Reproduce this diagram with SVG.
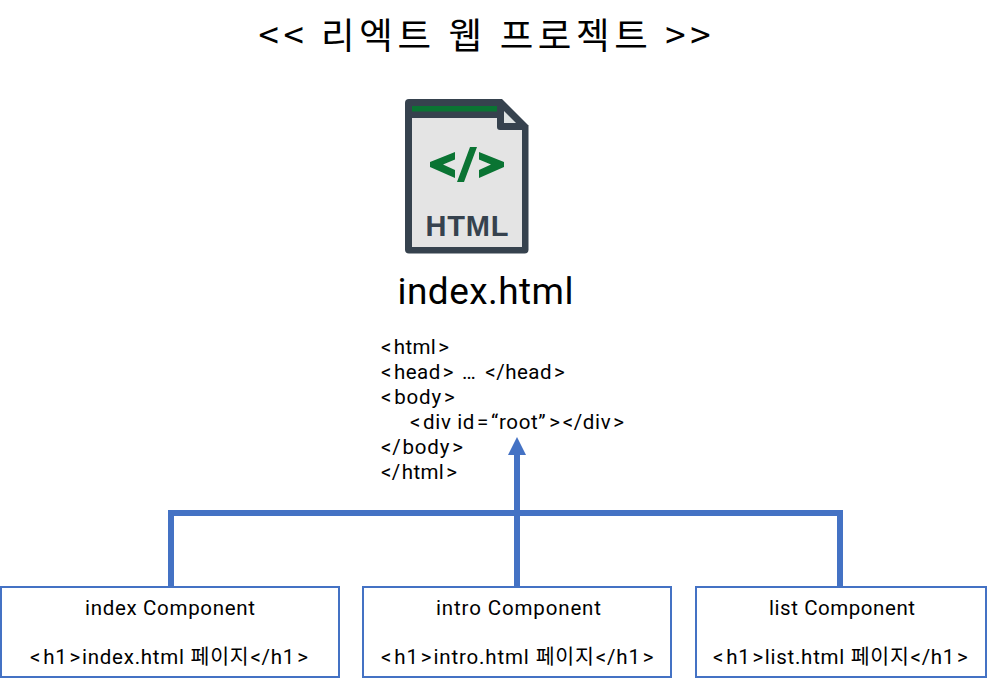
<svg xmlns="http://www.w3.org/2000/svg" width="987" height="681" viewBox="0 0 987 681">
<style>
text{font-family:Roboto,"Noto Sans CJK KR",sans-serif;fill:#000}
.k{font-family:"Noto Sans CJK KR",sans-serif}
.t{font-size:20.500px}
.box{fill:#fff;stroke:#4472c4;stroke-width:2}
.conn{fill:none;stroke:#4472c4;stroke-width:6}
</style>
<rect width="987" height="681" fill="#fff"/>
<text id="title" class="k" x="484.500" y="49" font-size="36.500" text-anchor="middle" textLength="452" lengthAdjust="spacing">&lt;&lt; 리엑트 웹 프로젝트 &gt;&gt;</text>
<g id="html-file-icon">
<path d="M409 99H502L528.500 125.500V249.500Q528.500 253.500 524.500 253.500H409Q405 253.500 405 249.500V103Q405 99 409 99Z" fill="#36424e"/>
<path d="M412 118H497V127Q497 130 500 130H522V247H412Z" fill="#e4e4e4"/>
<rect x="412" y="106" width="85" height="5.500" fill="#0a7433"/>
<path d="M504 111L516 123H504Z" fill="#dfe3e3"/>
<path d="M430 162L455 152V159.500L443 164.500L455 170V178L430 167Z M504 162L479 152V159.500L491 164.500L479 170V178L504 167Z M457 182L470 147H477L464 182Z" fill="#0a7433"/>
<text x="467" y="236" font-size="29" font-weight="700" text-anchor="middle" textLength="83" style="font-family:'Liberation Sans',sans-serif;fill:#36424e">HTML</text>
</g>
<text id="file-name" x="485.500" y="304" font-size="37" text-anchor="middle" textLength="176">index.html</text>
<g id="code">
<text class="t" x="381" y="354" letter-spacing=".35">&lt;<tspan dx="2">html</tspan><tspan dx="2">&gt;</tspan></text>
<text class="t" x="381" y="379" letter-spacing=".5">&lt;<tspan dx="2">head</tspan><tspan dx="2">&gt;</tspan><tspan dx="8">…</tspan><tspan dx="9">&lt;/head</tspan><tspan dx="2">&gt;</tspan></text>
<text class="t" x="381" y="404" letter-spacing=".8">&lt;<tspan dx="2">body</tspan><tspan dx="2">&gt;</tspan></text>
<text class="t" x="410" y="429" letter-spacing=".65">&lt;<tspan dx="2">div id</tspan><tspan dx="2">=</tspan><tspan dx="2">“root”</tspan><tspan dx="3">&gt;</tspan><tspan dx="2">&lt;/div</tspan><tspan dx="2">&gt;</tspan></text>
<text class="t" x="381" y="454" letter-spacing=".8">&lt;/<tspan dx="1">body</tspan><tspan dx="2">&gt;</tspan></text>
<text class="t" x="381" y="479" letter-spacing=".4">&lt;/<tspan dx="1">html</tspan><tspan dx="2">&gt;</tspan></text>
</g>
<defs>
<marker id="arrow" markerUnits="userSpaceOnUse" markerWidth="18" markerHeight="18" refX="0" refY="9" orient="auto"><path d="M0 0L18 9L0 18Z" fill="#4472c4"/></marker>
</defs>
<g id="connectors">
<path class="conn" d="M171 586V513H840V586"/>
<path class="conn" d="M517 586V455" marker-end="url(#arrow)"/>
</g>
<g id="index-component">
<rect class="box" x="1" y="587" width="338" height="90"/>
<text class="t" x="85" y="615" textLength="170">index Component</text>
<text class="t" x="30" y="664" letter-spacing=".75">&lt;<tspan dx="2">h1</tspan><tspan dx="2">&gt;</tspan><tspan dx="1">index.html 페이지</tspan><tspan dx="1">&lt;/h1</tspan><tspan dx="2">&gt;</tspan></text>
</g>
<g id="intro-component">
<rect class="box" x="363" y="587" width="308" height="90"/>
<text class="t" x="436" y="615" textLength="165">intro Component</text>
<text class="t" x="381" y="664" letter-spacing=".85">&lt;<tspan dx="2">h1</tspan><tspan dx="2">&gt;</tspan><tspan dx="1">intro.html 페이지</tspan><tspan dx="1">&lt;/h1</tspan><tspan dx="2">&gt;</tspan></text>
</g>
<g id="list-component">
<rect class="box" x="696" y="587" width="290" height="90"/>
<text class="t" x="769" y="615" textLength="146">list Component</text>
<text class="t" x="713" y="664" letter-spacing=".72">&lt;<tspan dx="2">h1</tspan><tspan dx="2">&gt;</tspan><tspan dx="1">list.html 페이지</tspan><tspan dx="1">&lt;/h1</tspan><tspan dx="2">&gt;</tspan></text>
</g>
</svg>
